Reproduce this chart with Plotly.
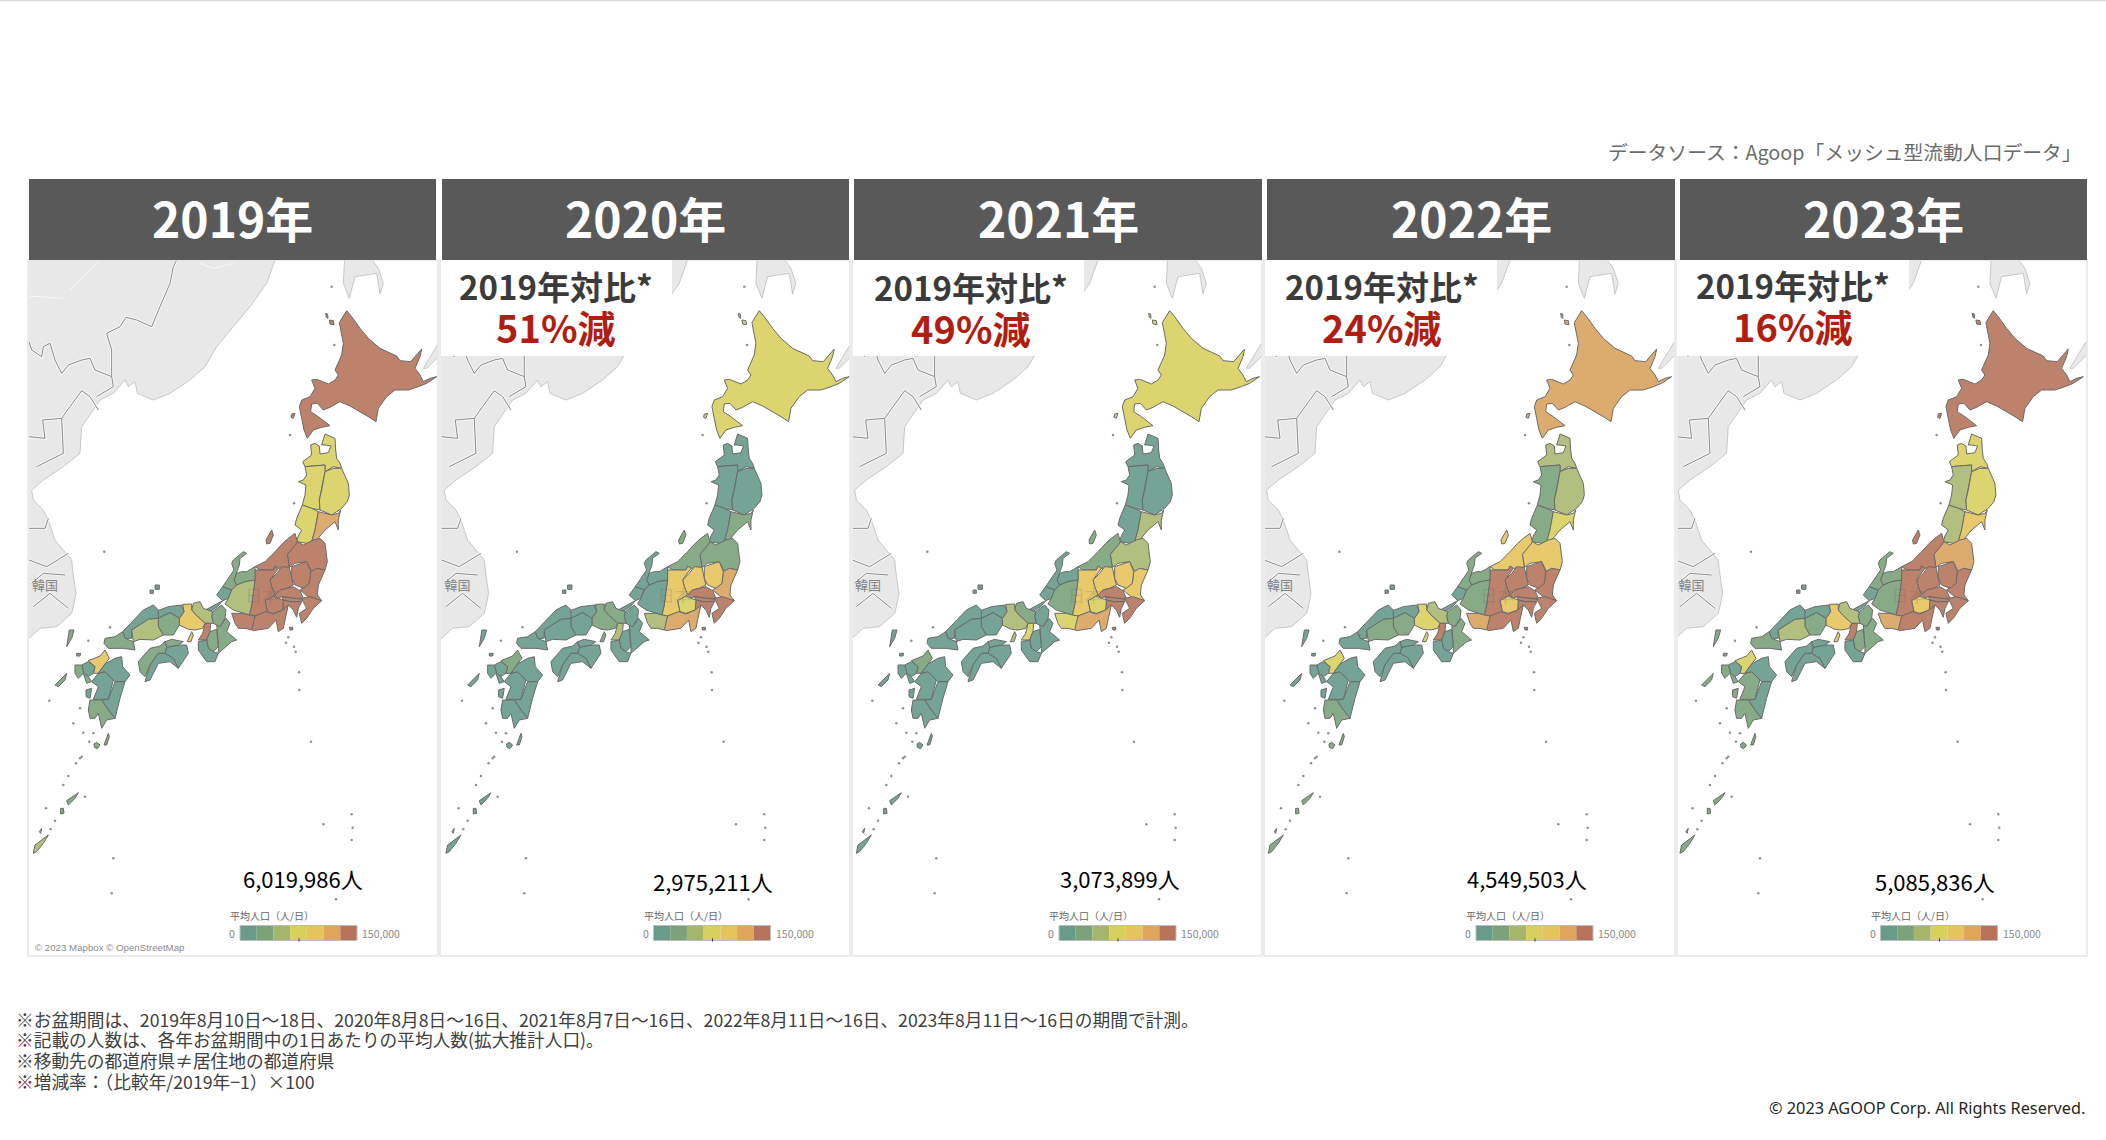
import plotly.graph_objects as go
from plotly.subplots import make_subplots

W, H = 2106, 1140
FONT = "Noto Sans CJK JP"

years = ["2019年", "2020年", "2021年", "2022年", "2023年"]
totals = ["6,019,986人", "2,975,211人", "3,073,899人", "4,549,503人", "5,085,836人"]
changes = ["", "51%減", "49%減", "24%減", "16%減"]

prefs = ["北海道", "青森", "秋田", "岩手", "山形", "宮城", "福島", "新潟", "茨城", "栃木", "群馬", "埼玉",
         "千葉", "東京", "神奈川", "山梨", "長野", "静岡", "富山", "石川", "福井", "岐阜", "愛知", "三重",
         "滋賀", "京都", "大阪", "兵庫", "奈良", "和歌山", "鳥取", "島根", "岡山", "広島", "山口", "徳島",
         "香川", "愛媛", "高知", "福岡", "佐賀", "長崎", "熊本", "大分", "宮崎", "鹿児島", "沖縄"]
pop_2019 = [330, 75, 70, 80, 72, 115, 140, 150, 135, 140, 140, 230, 260, 420, 300, 135, 175, 190, 38, 40, 20, 60, 210, 40,
            35, 58, 240, 95, 40, 20, 15, 18, 35, 60, 35, 18, 30, 35, 18, 92, 18, 30, 20, 18, 18, 35, 55]
pop_2020 = [70, 15, 14, 16, 15, 28, 35, 38, 115, 100, 98, 190, 175, 300, 210, 72, 100, 120, 15, 16, 10, 20, 55, 20,
            18, 32, 60, 40, 18, 10, 8, 9, 18, 20, 14, 9, 14, 16, 9, 35, 10, 14, 14, 12, 10, 18, 16]
pop_2021 = [72, 16, 15, 18, 17, 45, 48, 40, 105, 95, 92, 185, 170, 310, 215, 75, 98, 118, 16, 16, 11, 25, 70, 20,
            18, 35, 68, 50, 18, 10, 8, 9, 18, 20, 14, 9, 14, 16, 9, 35, 10, 14, 14, 12, 10, 18, 16]
pop_2022 = [115, 50, 38, 48, 36, 80, 95, 90, 145, 145, 140, 220, 230, 380, 270, 92, 140, 165, 30, 30, 18, 40, 112, 30,
            28, 45, 150, 72, 20, 16, 12, 14, 28, 38, 20, 12, 18, 20, 12, 75, 14, 18, 20, 16, 14, 25, 30]
pop_2023 = [300, 72, 55, 70, 50, 100, 112, 135, 140, 145, 140, 225, 240, 400, 285, 92, 160, 175, 32, 34, 18, 42, 118, 34,
            30, 48, 190, 88, 24, 18, 14, 16, 30, 45, 24, 14, 18, 20, 14, 72, 16, 24, 24, 18, 16, 30, 36]
pops = [pop_2019, pop_2020, pop_2021, pop_2022, pop_2023]

bins_map = ["#75a396", "#88ab87", "#b2bf7e", "#dcd46e", "#e8c96c", "#dcac6e", "#bc826c"]
bins_legend = ["#699b8b", "#7ca27a", "#a5b56c", "#d8d05c", "#e5c45d", "#dea55b", "#ba735b"]
legend_max = 150

notes = ["※お盆期間は、2019年8月10日～18日、2020年8月8日～16日、2021年8月7日～16日、2022年8月11日～16日、2023年8月11日～16日の期間で計測。",
         "※記載の人数は、各年お盆期間中の1日あたりの平均人数(拡大推計人口)。",
         "※移動先の都道府県≠居住地の都道府県",
         "※増減率：（比較年/2019年−1）×100"]


def crop(x0, y0, pts, s=3):
    return [(x0 + a / s, y0 + b / s) for a, b in pts]


def z5(p): return crop(280, 300, p)
def z6(p): return crop(270, 430, p)
def z7(p): return crop(210, 530, p)
def z8(p): return crop(90, 590, p)
def z9(p): return crop(50, 640, p)
def z1(p): return crop(0, 170, p)
def z2(p): return crop(0, 550, p)


shapes_jp = {
    "北海道": [z5([(200, 32), (215, 50), (240, 85), (265, 115), (300, 145), (350, 168), (360, 182), (392, 185), (425, 147), (420, 170),
                (405, 205), (420, 225), (430, 245), (450, 235), (470, 230), (440, 250), (415, 260), (385, 270), (345, 270), (320, 290),
                (295, 325), (288, 365), (265, 350), (210, 318), (180, 305), (150, 322), (130, 330), (112, 310), (95, 312), (92, 335),
                (115, 350), (150, 377), (125, 382), (100, 390), (82, 415), (72, 390), (65, 355), (58, 320), (65, 300), (90, 290),
                (105, 265), (95, 240), (110, 238), (145, 252), (165, 240), (175, 225), (165, 210), (175, 190), (185, 165), (190, 130),
                (178, 68), (190, 48)]),
            z5([(148, 60), (160, 62), (162, 74), (150, 72)]), z5([(137, 40), (143, 42), (144, 55), (139, 52)]),
            z5([(35, 342), (45, 340), (40, 355), (33, 352)])],
    "青森": [z6([(98, 95), (125, 75), (122, 45), (135, 40), (148, 48), (150, 72), (175, 68), (183, 48), (165, 45), (155, 45), (165, 12),
               (195, 25), (197, 60), (200, 85), (210, 100), (215, 115), (190, 110), (165, 125), (165, 105), (130, 108), (105, 110)])],
    "秋田": [z6([(105, 110), (130, 108), (165, 105), (165, 125), (158, 160), (155, 180), (148, 210), (150, 240), (125, 235), (97, 225),
               (105, 195), (108, 165), (85, 155), (100, 150), (110, 135)])],
    "岩手": [z6([(165, 125), (190, 115), (215, 115), (225, 135), (235, 160), (238, 195), (232, 215), (215, 235), (200, 245), (185, 255),
               (150, 240), (148, 210), (155, 180), (158, 160)])],
    "山形": [z6([(97, 225), (125, 235), (145, 245), (140, 270), (135, 300), (125, 335), (110, 340), (80, 335), (85, 318), (95, 300),
               (75, 285), (80, 265), (88, 245)])],
    "宮城": [z6([(145, 245), (185, 255), (205, 250), (212, 240), (205, 270), (205, 300), (195, 275), (165, 300), (140, 330), (125, 335),
               (135, 300), (140, 270)])],
    "福島": [z7([(232, 73), (258, 42), (262, 35), (280, 45), (310, 30), (330, 25), (345, 40), (352, 95), (345, 120), (320, 115),
               (305, 125), (290, 95), (255, 100), (238, 112)])],
    "新潟": [z7([(135, 110), (165, 95), (195, 65), (218, 40), (235, 25), (255, 10), (262, 35), (258, 42), (232, 73), (238, 112),
               (205, 115), (195, 108), (190, 120), (150, 120)]),
             z7([(168, 30), (185, 0), (190, 15), (180, 40), (170, 42)])],
    "茨城": [z7([(302, 125), (320, 115), (345, 120), (325, 165), (322, 195), (335, 212), (300, 205), (270, 180), (298, 160)])],
    "栃木": [z7([(245, 110), (290, 95), (302, 125), (298, 160), (280, 175), (255, 165), (245, 145)])],
    "群馬": [z7([(180, 150), (200, 130), (215, 110), (238, 112), (245, 145), (250, 165), (230, 175), (210, 180), (195, 195), (185, 170)])],
    "埼玉": [z7([(195, 195), (210, 180), (230, 175), (250, 170), (270, 182), (280, 205), (250, 205), (215, 200), (205, 205)])],
    "千葉": [z7([(275, 205), (300, 200), (335, 212), (310, 235), (290, 265), (275, 280), (268, 250), (290, 235), (280, 215)])],
    "東京": [z7([(215, 200), (250, 205), (278, 208), (275, 215), (240, 215), (220, 210)]),
             z7([(238, 292), (248, 292), (248, 300), (240, 300)])],
    "神奈川": [z7([(220, 210), (240, 215), (275, 215), (265, 235), (260, 262), (250, 240), (235, 225), (218, 240)])],
    "山梨": [z7([(165, 212), (185, 195), (205, 205), (220, 210), (218, 240), (190, 250), (172, 245)])],
    "長野": [z7([(135, 120), (150, 120), (190, 120), (195, 108), (205, 115), (180, 150), (185, 170), (195, 195), (165, 212), (172, 245),
               (135, 258), (118, 255), (125, 225), (130, 185), (135, 150)])],
    "静岡": [z7([(120, 295), (135, 258), (168, 245), (190, 252), (218, 240), (235, 225), (225, 270), (220, 295), (205, 305), (198, 270),
               (175, 295), (130, 302)])],
    "富山": [z7([(80, 130), (95, 125), (110, 125), (135, 110), (135, 150), (105, 155), (80, 165), (72, 150)])],
    "石川": [z7([(70, 90), (100, 65), (110, 70), (90, 85), (88, 105), (80, 130), (72, 150), (80, 165), (65, 180), (38, 170), (60, 140),
               (72, 120), (65, 100)])],
    "福井": [z7([(38, 170), (65, 180), (55, 205), (38, 212), (20, 195)]), z7([(-10, 238), (25, 218), (38, 212), (25, 228), (0, 245)])],
    "岐阜": [z7([(80, 165), (105, 155), (135, 150), (130, 185), (125, 225), (118, 255), (100, 250), (70, 240), (45, 222), (55, 205), (65, 180)])],
    "愛知": [z7([(65, 250), (100, 250), (118, 255), (135, 258), (125, 300), (105, 295), (85, 295), (75, 280)])],
    "三重": [z8([(380, 100), (390, 110), (408, 85), (420, 100), (410, 125), (440, 150), (425, 155), (385, 190), (385, 170), (380, 118)])],
    "滋賀": [z8([(368, 65), (395, 45), (408, 60), (405, 85), (390, 110), (370, 100), (365, 80)])],
    "京都": [z8([(310, 40), (330, 35), (340, 55), (368, 65), (365, 80), (370, 100), (362, 100), (345, 100), (318, 75), (305, 60)])],
    "大阪": [z8([(345, 100), (362, 100), (360, 125), (350, 150), (325, 150), (338, 130)])],
    "兵庫": [z8([(278, 43), (305, 42), (305, 60), (318, 75), (345, 100), (338, 115), (315, 120), (295, 118), (268, 105), (268, 85), (282, 65)]),
             z8([(292, 155), (305, 125), (310, 135), (303, 155)])],
    "奈良": [z8([(360, 125), (380, 118), (385, 170), (370, 185), (355, 175), (350, 150)])],
    "和歌山": [z8([(325, 155), (350, 150), (355, 175), (370, 185), (385, 190), (375, 215), (350, 215), (325, 180)])],
    "鳥取": [z8([(195, 65), (235, 50), (275, 45), (282, 65), (268, 85), (240, 68), (205, 85)])],
    "島根": [z8([(98, 125), (130, 90), (160, 60), (190, 45), (205, 60), (205, 85), (175, 88), (125, 120), (125, 145), (105, 145)]),
             z2([(465, 105), (478, 105), (478, 118), (465, 118)]), z2([(450, 120), (460, 120), (460, 130), (450, 130)])],
    "岡山": [z8([(205, 85), (240, 68), (268, 85), (268, 105), (250, 135), (220, 135), (205, 110)])],
    "広島": [z8([(125, 120), (175, 88), (205, 85), (205, 110), (220, 135), (190, 150), (150, 148), (130, 155)])],
    "山口": [z8([(45, 145), (75, 140), (98, 125), (105, 145), (130, 155), (135, 180), (100, 175), (55, 175), (42, 160)])],
    "徳島": [z8([(230, 172), (265, 165), (290, 165), (295, 190), (265, 235), (250, 205), (225, 190)])],
    "香川": [z8([(225, 155), (245, 148), (280, 155), (265, 165), (230, 172)])],
    "愛媛": [z8([(145, 215), (180, 175), (210, 168), (225, 155), (230, 172), (225, 190), (205, 190), (180, 225), (165, 260), (150, 245)])],
    "高知": [z8([(165, 275), (180, 225), (205, 190), (225, 190), (250, 205), (265, 235), (240, 215), (205, 220), (180, 270)])],
    "福岡": [z9([(115, 62), (150, 48), (165, 30), (178, 55), (165, 72), (145, 100), (130, 100), (135, 80)])],
    "佐賀": [z9([(95, 75), (115, 65), (135, 80), (130, 100), (115, 110), (102, 100)])],
    "長崎": [z9([(75, 75), (95, 75), (102, 100), (115, 110), (125, 125), (110, 130), (100, 100), (85, 115), (75, 100)]),
             z9([(15, 135), (50, 100), (45, 120), (25, 140)]),
             z2([(208, 240), (222, 240), (215, 265), (200, 290)]), z2([(230, 310), (242, 310), (240, 318), (230, 318)])],
    "熊本": [z9([(125, 125), (145, 100), (165, 95), (190, 120), (175, 178), (130, 178), (145, 140)]),
             z9([(108, 150), (125, 145), (120, 175), (108, 170)])],
    "大分": [z9([(165, 72), (195, 55), (215, 50), (218, 80), (240, 105), (225, 125), (195, 125), (190, 120), (165, 95), (145, 100)])],
    "宮崎": [z9([(195, 125), (225, 125), (210, 175), (195, 235), (175, 210), (155, 180), (175, 178)])],
    "鹿児島": [z9([(120, 180), (155, 180), (175, 210), (195, 235), (170, 240), (155, 265), (145, 220), (135, 235), (120, 235), (115, 210)]),
               z2([(312, 585), (325, 550), (328, 560), (320, 585)]),
               z2([(282, 582), (290, 577), (300, 585), (292, 596), (283, 592)]),
               z2([(200, 752), (235, 728), (225, 745), (205, 765)]),
               z2([(182, 775), (190, 775), (192, 790), (182, 792)])],
    "沖縄": [z2([(100, 910), (105, 885), (145, 855), (130, 880), (110, 905)]), z2([(118, 845), (125, 835), (122, 850)])],
}

asia = z1([(0, 240), (830, 240), (825, 270), (800, 340), (750, 410), (690, 480), (650, 530), (615, 590), (570, 630), (510, 670),
           (460, 690), (412, 670), (405, 635), (385, 650), (375, 630), (340, 670), (300, 690), (245, 770), (240, 850), (190, 890),
           (130, 930), (95, 960), (100, 990), (130, 1020), (145, 1050), (165, 1110), (215, 1170), (218, 1200)]) + \
       z2([(225, 100), (228, 130), (220, 170), (215, 190), (170, 230), (120, 235), (87, 265), (0, 275)])
sakhalin = z1([(1035, 240), (1030, 340), (1048, 385), (1065, 320), (1130, 310), (1140, 372), (1150, 340), (1135, 295), (1095, 240)])
kuril = z5([(430, 205), (475, 130), (490, 120), (490, 155), (440, 205)])
land = [asia, sakhalin, kuril]

land_lines = [z1([(87, 515), (95, 540), (125, 560), (130, 530), (150, 520), (165, 570), (185, 610), (205, 585), (245, 570), (270, 565), (285, 600),
                  (335, 620), (335, 540), (320, 490), (360, 470), (378, 442), (410, 450), (455, 470), (480, 410), (510, 340), (520, 290), (530, 270)]),
              z1([(87, 800), (135, 805), (128, 750), (185, 745), (210, 710), (245, 662), (270, 680), (295, 720)]),
              z1([(335, 620), (340, 650), (290, 680)]),
              z1([(185, 745), (190, 850), (110, 890)]),
              z1([(87, 1075), (135, 1075), (145, 1045)]),
              z2([(87, 30), (140, 50), (205, 10)]), z2([(95, 100), (130, 70), (195, 75)]), z2([(100, 170), (150, 130), (205, 175)])]
river_lines = [z1([(87, 378), (130, 380), (190, 385)]), z1([(210, 360), (250, 320), (300, 270)]), z1([(600, 280), (640, 295), (700, 280)])]

# tiny islands drawn as dots
islets = z2([(875, 235), (865, 262), (858, 278), (882, 290), (887, 305), (897, 367), (898, 420), (933, 575), (1055, 793), (1058, 833),
             (1055, 870), (970, 823), (1008, 1048), (340, 925), (335, 1030), (245, 620), (228, 640), (240, 625), (205, 678), (190, 705),
             (138, 775), (165, 812), (152, 838), (250, 548), (280, 550), (268, 575), (220, 520), (148, 452), (240, 475), (255, 740),
             (330, 232), (265, 272)]) + z1([(313, 1145), (995, 350), (1003, 525), (870, 795), (882, 1000)])

# panel geometry in page pixels
panel_x = [(29, 438), (441, 850), (853, 1262), (1265, 1675), (1678, 2087)]
map_shift = [0, 412.6, 823, 1235, 1646.6]
header_x = [(29, 436), (442, 849), (854, 1262), (1267, 1675), (1680, 2087)]
box_x = [None, (441, 672), (853, 1084), (1265, 1497), (1677, 1909)]
map_top, map_bottom = 260, 956
cmp_cx = [None, 556, 971, 1382, 1793]
cmp_y = [None, 308, 309, 308, 307]
total_cx = [303, 713, 1120, 1527, 1935]
total_y = [878, 881, 878, 878, 881]
bar_x0 = [240, 653.5, 1059, 1476, 1880.5]
bar_y0 = [925.5, 925.5, 925.5, 925.5, 925.5]


def fx(p): return p / W
def fy(p): return 1 - p / H


def split(polys):
    xs, ys = [], []
    for poly in polys:
        xs += [a for a, b in poly] + [poly[0][0], None]
        ys += [b for a, b in poly] + [poly[0][1], None]
    return xs, ys


def lines(polys):
    xs, ys = [], []
    for poly in polys:
        xs += [a for a, b in poly] + [None]
        ys += [b for a, b in poly] + [None]
    return xs, ys


def colour(v):
    return bins_map[min(len(bins_map) - 1, int(v / (legend_max / len(bins_map))))]


fig = make_subplots(rows=1, cols=5)
for i in range(5):
    col = i + 1
    lx, ly = split(land)
    fig.add_trace(go.Scatter(x=lx, y=ly, mode="lines", fill="toself", fillcolor="#e8e8e8",
                             line=dict(color="#bdbdbd", width=0.8), hoverinfo="skip"), row=1, col=col)
    bx, by = lines(land_lines)
    fig.add_trace(go.Scatter(x=bx, y=by, mode="lines", line=dict(color="#f6f6f6", width=3), hoverinfo="skip"), row=1, col=col)
    fig.add_trace(go.Scatter(x=bx, y=by, mode="lines", line=dict(color="#8a8a8a", width=1), hoverinfo="skip"), row=1, col=col)
    rx, ry = lines(river_lines)
    fig.add_trace(go.Scatter(x=rx, y=ry, mode="lines", line=dict(color="#f8f8f8", width=1), hoverinfo="skip"), row=1, col=col)
    fig.add_trace(go.Scatter(x=[a for a, b in islets], y=[b for a, b in islets], mode="markers",
                             marker=dict(size=2.5, color="#8f8f8f"), hoverinfo="skip"), row=1, col=col)
    for name, v in zip(prefs, pops[i]):
        px_, py_ = split(shapes_jp[name])
        fig.add_trace(go.Scatter(x=px_, y=py_, mode="lines", fill="toself", fillcolor=colour(v),
                                 line=dict(color="#6a6a6a", width=1), name=name, hovertemplate=name + ": %{text}千人<extra></extra>",
                                 text=[v] * len(px_)), row=1, col=col)
    fig.add_trace(go.Scatter(x=[45, 262], y=[587, 598], mode="text", text=["韓国", "日本"],
                             textfont=dict(family=FONT, size=[13, 17], color=["#858585", "rgba(90,90,90,0.2)"]),
                             hoverinfo="skip"), row=1, col=col)
    suffix = "" if i == 0 else str(col)
    fig.layout["xaxis" + suffix].update(domain=[fx(panel_x[i][0]), fx(panel_x[i][1])],
                                        range=[panel_x[i][0] - map_shift[i], panel_x[i][1] - map_shift[i]],
                                        visible=False, fixedrange=True)
    fig.layout["yaxis" + suffix].update(domain=[fy(map_bottom), fy(map_top)], range=[map_bottom, map_top],
                                        visible=False, fixedrange=True)

shapes = [dict(type="line", xref="paper", yref="paper", x0=0, x1=1, y0=fy(0.5), y1=fy(0.5), line=dict(color="#dcdcdc", width=1.5))]
notes_ann = []


def text(x, y, s, size, color="#000", anchor="center", weight=400, family=FONT):
    notes_ann.append(dict(x=fx(x), y=fy(y), xref="paper", yref="paper", text=s, showarrow=False, xanchor=anchor, yanchor="middle",
                          font=dict(family=family, size=size, color=color, weight=weight)))


for i in range(5):
    # panel frame
    shapes.append(dict(type="rect", xref="paper", yref="paper", x0=fx(panel_x[i][0] - 1), x1=fx(panel_x[i][1]),
                       y0=fy(map_bottom), y1=fy(map_top), line=dict(color="#e6e6e6", width=1.5), layer="above"))
    shapes.append(dict(type="rect", xref="paper", yref="paper", x0=fx(header_x[i][0]), x1=fx(header_x[i][1]),
                       y0=fy(260), y1=fy(179), fillcolor="#595959", line=dict(width=0), layer="above"))
    text(sum(header_x[i]) / 2, 217, years[i], 48, "#ffffff", weight=700)
    if box_x[i]:
        shapes.append(dict(type="rect", xref="paper", yref="paper", x0=fx(box_x[i][0]), x1=fx(box_x[i][1]),
                           y0=fy(356), y1=fy(260), fillcolor="#ffffff", line=dict(width=0), layer="above"))
        # two lines in one text so they sit tight like the reference
        text(cmp_cx[i], cmp_y[i], "2019年対比*<br><span style='font-size:38px;color:#b01e12'>" + changes[i] + "</span>",
             33, "#3b3b3b", weight=700)
    text(total_cx[i], total_y[i], totals[i], 22)
    # colour legend
    bw = 117 / len(bins_legend)
    for k, c in enumerate(bins_legend):
        shapes.append(dict(type="rect", xref="paper", yref="paper", x0=fx(bar_x0[i] + k * bw), x1=fx(bar_x0[i] + (k + 1) * bw),
                           y0=fy(bar_y0[i] + 15), y1=fy(bar_y0[i]), fillcolor=c, line=dict(width=0), layer="above"))
    shapes.append(dict(type="rect", xref="paper", yref="paper", x0=fx(bar_x0[i]), x1=fx(bar_x0[i] + 117),
                       y0=fy(bar_y0[i] + 15), y1=fy(bar_y0[i]), line=dict(color="#bdbdbd", width=1), layer="above"))
    shapes.append(dict(type="line", xref="paper", yref="paper", x0=fx(bar_x0[i] + 59), x1=fx(bar_x0[i] + 59),
                       y0=fy(bar_y0[i] + 16), y1=fy(bar_y0[i] + 13), line=dict(color="#333", width=1), layer="above"))
    text(bar_x0[i] - 12, bar_y0[i] - 10, "平均人口（人/日）", 10, "#666666", anchor="left")
    text(bar_x0[i] - 3, bar_y0[i] + 8, "0", 10.5, "#7f7f7f", anchor="right")
    text(bar_x0[i] + 120, bar_y0[i] + 8, "150,000", 10.5, "#8a8a8a", anchor="left")

text(33, 947, "© 2023 Mapbox © OpenStreetMap", 9.7, "#8c8c8c", anchor="left", family="Liberation Sans")
text(2084, 152, "データソース：Agoop「メッシュ型流動人口データ」", 19.8, "#6b6b6b", anchor="right")
for y, s in zip([1019, 1039, 1060, 1081], notes):
    text(14, y, s, 17.7, "#404040", anchor="left")
text(2087, 1108, "© 2023 AGOOP Corp. All Rights Reserved.", 16.3, "#262626", anchor="right", family="Noto Sans")

fig.update_layout(width=W, height=H, margin=dict(l=0, r=0, t=0, b=0), showlegend=False, plot_bgcolor="#ffffff",
                  paper_bgcolor="#ffffff", shapes=shapes, annotations=notes_ann)
fig.write_html("out.html", config=dict(displayModeBar=False),
               post_script="document.body.style.margin='0';document.body.style.overflow='hidden';")
